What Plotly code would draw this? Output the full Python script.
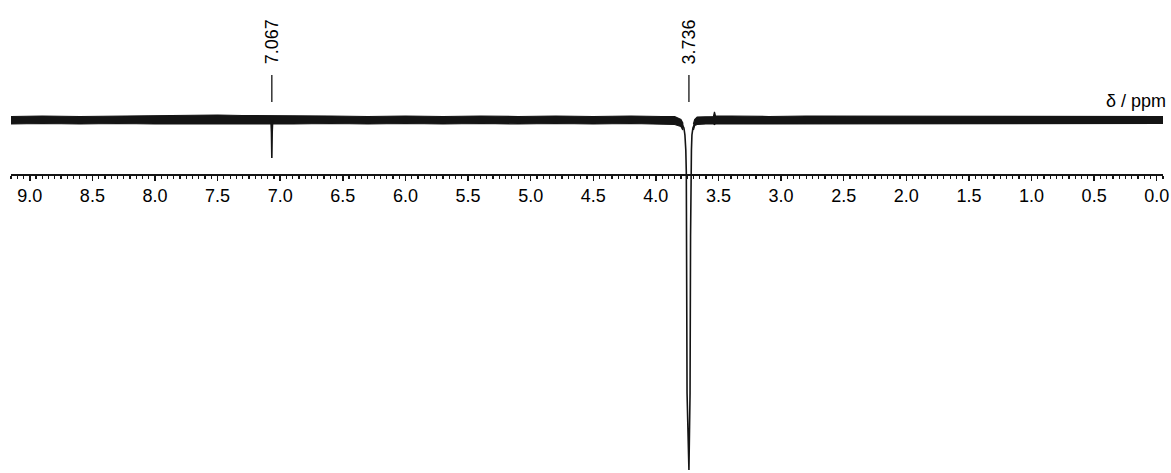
import plotly.graph_objects as go

# ---- data ----
# noise band envelope of the baseline (left and right of the big peak)
band_l_ppm   = [9.15, 8.90, 8.60, 8.30, 8.00, 7.75, 7.50, 7.30, 7.10, 6.90, 6.60, 6.30, 6.00, 5.70, 5.40, 5.10, 4.80, 4.50, 4.20, 3.95, 3.85, 3.80, 3.785]
band_l_upper = [3.5, 4.0, 3.5, 4.0, 4.0, 4.5, 5.0, 4.5, 4.5, 4.0, 4.0, 3.5, 4.0, 3.5, 4.0, 3.5, 4.0, 3.5, 4.0, 3.5, 3.5, 0.5, -3.0]
band_l_lower = [-4.0, -3.5, -4.0, -3.5, -4.0, -4.0, -4.5, -4.5, -4.0, -4.0, -3.5, -4.0, -3.5, -4.0, -3.5, -4.0, -3.5, -4.0, -3.5, -4.0, -4.5, -6.5, -10.0]
band_r_ppm   = [3.70, 3.69, 3.67, 3.60, 3.540, 3.532, 3.524, 3.40, 3.10, 2.80, 2.50, 2.20, 1.90, 1.60, 1.30, 1.00, 0.70, 0.40, 0.15, -0.05]
band_r_upper = [-4.0, 0.5, 3.0, 3.5, 3.5, 8.0, 4.0, 4.0, 3.5, 4.0, 4.0, 3.5, 4.0, 4.0, 3.5, 3.5, 3.5, 3.5, 3.5, 3.5]
band_r_lower = [-10.0, -5.5, -4.5, -4.0, -4.0, -4.5, -4.0, -3.5, -4.0, -3.5, -4.0, -3.5, -4.0, -3.5, -3.5, -4.0, -3.5, -4.0, -3.5, -3.5]

# resolved signals
peak1_ppm = [7.085, 7.073, 7.070, 7.067, 7.064, 7.061, 7.050]
peak1_int = [0, -3, -12, -38, -12, -3, 0]

peak2_ppm = [3.830, 3.800, 3.792, 3.776, 3.768, 3.761, 3.757, 3.754, 3.751, 3.736,
             3.727, 3.723, 3.720, 3.716, 3.712, 3.704, 3.688, 3.650]
peak2_int = [0, -1, -4, -8, -15, -30, -52, -117, -273, -350,
             -273, -117, -52, -30, -15, -8, -3, 0]

peak_labels = ["7.067", "3.736"]
peak_pos = [7.067, 3.736]

tick_vals = [9.0, 8.5, 8.0, 7.5, 7.0, 6.5, 6.0, 5.5, 5.0, 4.5, 4.0, 3.5, 3.0, 2.5, 2.0, 1.5, 1.0, 0.5, 0.0]
tick_text = ["9.0", "8.5", "8.0", "7.5", "7.0", "6.5", "6.0", "5.5", "5.0", "4.5", "4.0", "3.5", "3.0", "2.5", "2.0", "1.5", "1.0", "0.5", "0.0"]

axis_title = "δ / ppm"

# ---- figure ----
W, H = 1171, 473
FONT = "Liberation Sans, Arial, sans-serif"
INK = "#141414"
TXT = "#000000"
PL, PR = 11, 1163            # plot area left/right (page pixels)

fig = go.Figure()

for px, up, lo in [(band_l_ppm, band_l_upper, band_l_lower),
                   (band_r_ppm, band_r_upper, band_r_lower)]:
    fig.add_trace(go.Scatter(
        x=list(px) + list(px)[::-1],
        y=list(up) + list(lo)[::-1],
        fill="toself", fillcolor=INK, mode="lines",
        line=dict(color=INK, width=1.2), hoverinfo="skip", showlegend=False))

for px, iy in [(peak1_ppm, peak1_int), (peak2_ppm, peak2_int)]:
    fig.add_trace(go.Scatter(x=px, y=iy, mode="lines",
                             line=dict(color=INK, width=1.6),
                             showlegend=False))

def py(p):
    """page pixel row -> paper fraction"""
    return (H - p) / H

def pxf(p):
    """page pixel column -> paper fraction"""
    return (p - PL) / (PR - PL)

for lab, pos in zip(peak_labels, peak_pos):
    fig.add_shape(type="line", xref="x", yref="paper", x0=pos, x1=pos,
                  y0=py(102), y1=py(75), line=dict(color=INK, width=1.3))
    fig.add_annotation(x=pos, xref="x", y=py(66), yref="paper",
                       text=lab, textangle=-90, showarrow=False,
                       xanchor="center", yanchor="bottom",
                       font=dict(family=FONT, size=18, color=TXT))

fig.add_annotation(x=pxf(1168), xref="paper", y=py(101), yref="paper",
                   text=axis_title, showarrow=False,
                   xanchor="right", yanchor="middle",
                   font=dict(family=FONT, size=18, color=TXT))

fig.update_layout(
    width=W, height=H,
    margin=dict(l=PL, r=W - PR, t=0, b=0, autoexpand=False),
    paper_bgcolor="white", plot_bgcolor="white",
    font=dict(family=FONT, size=18, color=TXT),
    xaxis=dict(range=[9.15, -0.05], anchor="free", position=py(174),
               showgrid=False, zeroline=False, showline=True,
               linecolor=INK, linewidth=1.5,
               tickmode="array", tickvals=tick_vals, ticktext=tick_text,
               ticks="outside", ticklen=5, tickwidth=1.5, tickcolor=INK,
               tickfont=dict(family=FONT, size=18, color=TXT),
               minor=dict(dtick=0.05, ticks="outside", ticklen=3,
                          tickwidth=1.2, tickcolor=INK, showgrid=False)),
    yaxis=dict(range=[-353, 120], visible=False, showgrid=False,
               zeroline=False),
)

fig.write_html(
    "out.html",
    config={"displayModeBar": False, "staticPlot": True},
    post_script="document.body.style.margin='0';"
                "document.body.style.overflow='hidden';",
)
